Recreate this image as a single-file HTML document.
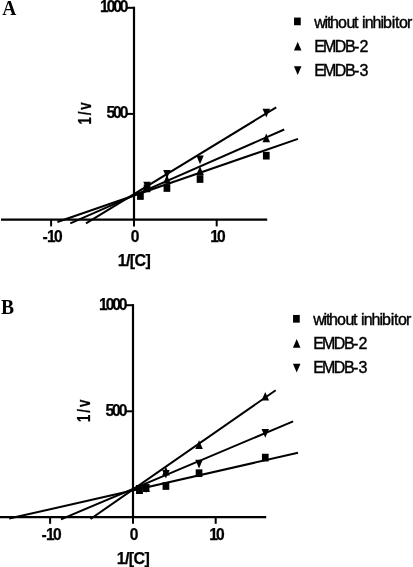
<!DOCTYPE html>
<html><head><meta charset="utf-8"><title>Lineweaver-Burk plots</title>
<style>
html,body{margin:0;padding:0;background:#fff;}
svg{display:block;}
</style></head>
<body>
<svg width="413" height="567" viewBox="0 0 413 567">
<rect width="413" height="567" fill="#fff"/>
<g stroke="#000" stroke-width="2.2" fill="none" stroke-linecap="butt">
<path d="M134.0 6.70V220.80"/>
<path d="M1 219.7H267.2"/>
</g>
<g stroke="#000" stroke-width="2" fill="none">
<path d="M127.0 7.8H134.0"/>
<path d="M127.0 113.9H134.0"/>
<path d="M51.1 219.7V226.40"/>
<path d="M134.0 219.7V226.40"/>
<path d="M216.7 219.7V226.40"/>
</g>
<g stroke="#000" stroke-width="2" fill="none" stroke-linecap="butt">
<path d="M57.4 222L298 138.9"/>
<path d="M70.3 223.4L284.2 129.5"/>
<path d="M86 223.4L276.2 107.4"/>
</g>
<g fill="#000">
<rect x="137.07" y="192.15" width="6.7" height="7.7"/>
<rect x="143.70" y="184.55" width="6.7" height="7.7"/>
<rect x="163.57" y="184.15" width="6.7" height="7.7"/>
<rect x="196.69" y="175.15" width="6.7" height="7.7"/>
<rect x="262.93" y="151.85" width="6.7" height="7.7"/>
<path d="M147.05 181.80L150.80 190.50H143.30Z"/>
<path d="M166.92 174.80L170.67 183.50H163.17Z"/>
<path d="M200.04 166.20L203.79 174.90H196.29Z"/>
<path d="M266.28 133.50L270.03 142.20H262.53Z"/>
<path d="M147.05 190.50L150.80 181.80H143.30Z"/>
<path d="M166.92 178.70L170.67 170.00H163.17Z"/>
<path d="M200.04 164.20L203.79 155.50H196.29Z"/>
<path d="M266.28 117.40L270.03 108.70H262.53Z"/>
<rect x="294.05" y="17.55" width="6.7" height="7.7"/>
<path d="M297.70 41.70L301.45 50.40H293.95Z"/>
<path d="M297.70 75.00L301.45 66.30H293.95Z"/>
</g>
<g font-family="'Liberation Sans', Arial, sans-serif" fill="#000" stroke="#000" stroke-width="0.4">
<g font-weight="bold" font-size="15.6" stroke-width="0.25">
<text x="100.10 106.70 113.30 119.70" y="12.10">1000</text>
<text x="106.50 113.10 119.70" y="118.20">500</text>
<text x="42.50 46.90 54.00" y="242.10">-10</text>
<text x="130.65" y="242.10">0</text>
<text x="210.30 216.90" y="242.10">10</text>
</g>
<g font-weight="bold" font-size="16" stroke-width="0.25">
<text x="117.70" y="265.80" letter-spacing="-0.6">1/[C]</text>
</g>
<text transform="translate(90.7 124.60) rotate(-90) scale(0.75 1)" font-weight="bold" font-size="17.6" letter-spacing="2.6" stroke-width="0.25">1/v</text>
<g font-size="16">
<text x="314.30 324.45 327.05 329.95 337.95 346.45 354.10 358.30 361.90 364.65 372.55 380.60 383.05 391.75 395.10 399.00 406.90" y="27.70">without inhibitor</text>
<text x="314.20 322.90 334.85 345.10 354.05 359.40" y="51.50">EMDB-2</text>
<text x="314.20 322.90 334.85 345.10 354.05 359.40" y="75.60">EMDB-3</text>
</g>
</g>
<text transform="translate(2.2 14.8) scale(0.93 1.02)" font-family="'Liberation Serif', 'Times New Roman', serif" font-weight="bold" font-size="21" fill="#000">A</text>
<g stroke="#000" stroke-width="2.2" fill="none" stroke-linecap="butt">
<path d="M133.0 304.10V518.20"/>
<path d="M0 517.0999999999999H266.2"/>
</g>
<g stroke="#000" stroke-width="2" fill="none">
<path d="M126.0 305.2H133.0"/>
<path d="M126.0 411.29999999999995H133.0"/>
<path d="M50.1 517.0999999999999V523.80"/>
<path d="M133.0 517.0999999999999V523.80"/>
<path d="M215.7 517.0999999999999V523.80"/>
</g>
<g stroke="#000" stroke-width="2" fill="none" stroke-linecap="butt">
<path d="M9.2 518.6L298 452.8"/>
<path d="M61 519.3L293.1 421.3"/>
<path d="M90.5 519L275.7 390.3"/>
</g>
<g fill="#000">
<rect x="136.07" y="485.65" width="6.7" height="7.7"/>
<rect x="142.70" y="484.15" width="6.7" height="7.7"/>
<rect x="162.57" y="482.15" width="6.7" height="7.7"/>
<rect x="195.69" y="469.35" width="6.7" height="7.7"/>
<rect x="261.93" y="453.75" width="6.7" height="7.7"/>
<path d="M139.42 485.20L143.17 493.90H135.67Z"/>
<path d="M146.05 483.40L149.80 492.10H142.30Z"/>
<path d="M165.92 466.70L169.67 475.40H162.17Z"/>
<path d="M199.04 440.30L202.79 449.00H195.29Z"/>
<path d="M265.28 391.90L269.03 400.60H261.53Z"/>
<path d="M139.42 493.80L143.17 485.10H135.67Z"/>
<path d="M146.05 493.10L149.80 484.40H142.30Z"/>
<path d="M165.92 478.60L169.67 469.90H162.17Z"/>
<path d="M199.04 468.50L202.79 459.80H195.29Z"/>
<path d="M265.28 437.70L269.03 429.00H261.53Z"/>
<rect x="293.05" y="314.95" width="6.7" height="7.7"/>
<path d="M296.70 339.10L300.45 347.80H292.95Z"/>
<path d="M296.70 372.40L300.45 363.70H292.95Z"/>
</g>
<g font-family="'Liberation Sans', Arial, sans-serif" fill="#000" stroke="#000" stroke-width="0.4">
<g font-weight="bold" font-size="15.6" stroke-width="0.25">
<text x="99.10 105.70 112.30 118.70" y="309.50">1000</text>
<text x="105.50 112.10 118.70" y="415.60">500</text>
<text x="41.50 45.90 53.00" y="539.50">-10</text>
<text x="129.65" y="539.50">0</text>
<text x="209.30 215.90" y="539.50">10</text>
</g>
<g font-weight="bold" font-size="16" stroke-width="0.25">
<text x="116.70" y="563.80" letter-spacing="-0.6">1/[C]</text>
</g>
<text transform="translate(89.7 422.00) rotate(-90) scale(0.75 1)" font-weight="bold" font-size="17.6" letter-spacing="2.6" stroke-width="0.25">1/v</text>
<g font-size="16">
<text x="313.30 323.45 326.05 328.95 336.95 345.45 353.10 357.30 360.90 363.65 371.55 379.60 382.05 390.75 394.10 398.00 405.90" y="325.10">without inhibitor</text>
<text x="313.20 321.90 333.85 344.10 353.05 358.40" y="348.90">EMDB-2</text>
<text x="313.20 321.90 333.85 344.10 353.05 358.40" y="373.00">EMDB-3</text>
</g>
</g>
<text transform="translate(1.0 314.4) scale(0.93 1.02)" font-family="'Liberation Serif', 'Times New Roman', serif" font-weight="bold" font-size="21" fill="#000">B</text>
</svg>
</body></html>
